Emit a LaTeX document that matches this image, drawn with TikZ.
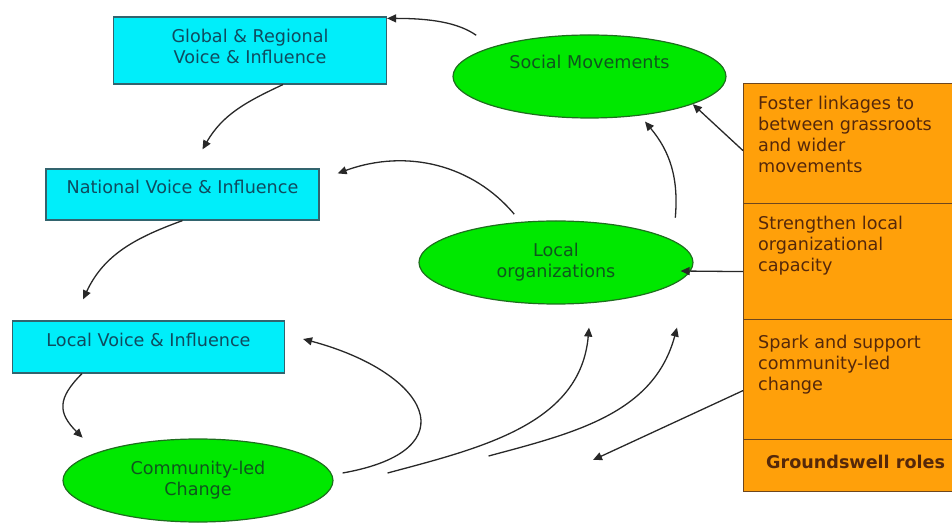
\documentclass[tikz,border=0pt]{standalone}
\usepackage{fontspec}
\setmainfont{DejaVu Sans}
\usetikzlibrary{arrows.meta,shapes.geometric}

\definecolor{voicefill}{RGB}{0,238,250}
\definecolor{voiceline}{RGB}{50,100,110}
\definecolor{voicetext}{RGB}{15,75,95}
\definecolor{actorfill}{RGB}{0,232,0}
\definecolor{actorline}{RGB}{30,110,30}
\definecolor{actortext}{RGB}{15,85,30}
\definecolor{rolefill}{RGB}{255,160,10}
\definecolor{roleline}{RGB}{110,70,30}
\definecolor{roletxt}{RGB}{85,40,10}
\definecolor{linkgray}{RGB}{40,40,40}

\begin{document}
\begin{tikzpicture}[x=1pt,y=1pt,
  font=\fontsize{17.6}{21}\selectfont,
  voice/.style={draw=voiceline, fill=voicefill, line width=1.2pt, text=voicetext, align=center, minimum width=273pt, inner sep=2pt},
  actor/.style={ellipse, draw=actorline, fill=actorfill, line width=1.2pt, text=actortext, align=center, minimum width=273pt, minimum height=83pt, inner sep=1pt},
  rolebox/.style={draw=roleline, fill=rolefill, line width=1.2pt, anchor=north west, minimum width=212pt},
  roletext/.style={text=roletxt, align=left, anchor=north west, inner sep=0pt},
  link/.style={draw=linkgray, line width=1.3pt, -{Triangle[length=9pt,width=8pt]}}]

\useasboundingbox (0,0) rectangle (952,522);

\node[voice, minimum height=67pt, text depth=8pt] (glob) at (250,471.5) {Global \& Regional\\Voice \& Influence};
\node[voice, minimum height=51pt, text depth=15pt] (nat) at (182.5,327.5) {National Voice \& Influence};
\node[voice, minimum width=272pt, minimum height=52pt, text depth=15pt] (locv) at (148.5,175) {Local Voice \& Influence};

\node[actor, text depth=29pt] (soc) at (589.5,445.5) {Social Movements};
\node[actor, minimum width=274pt] (lorg) at (556,259.5) {Local\\organizations};
\node[actor, minimum width=270pt] (comm) at (198,41.5) {Community-led\\Change};

\foreach \n/\y/\h in {fost/439/120, strg/319/116, sprk/203/120, gsw/83/52} {
        \node[rolebox, minimum height=\h pt] (\n) at (743,\y) {};
 }

\node[roletext] (fosttxt) at ([shift={(15,-13)}]fost.north west) {Foster linkages to\\between grassroots\\and wider\\movements};
\node[roletext] (strgtxt) at ([shift={(15,-13)}]strg.north west) {Strengthen local\\organizational\\capacity};
\node[roletext] (sprktxt) at ([shift={(15,-16)}]sprk.north west) {Spark and support\\community-led\\change};
\node[text=roletxt, font=\fontsize{17.6}{21}\selectfont\bfseries] (gswtxt) at ([shift={(6,4)}]gsw.center) {Groundswell roles};

\coordinate (clc) at (593,62);

\draw[link, shorten <=20pt] (soc.north west) to[out=145,in=0] ([yshift=-2pt]glob.north east);
\draw[link] (glob.-46) to[out=205,in=60] ([shift={(20,19)}]nat.north);
\draw[link, shorten <=10pt] (lorg.131) to[out=130,in=20] ([shift={(18,-5)}]nat.north east);
\draw[link] (nat.south) to[out=200,in=65] ([shift={(-65.5,21)}]locv.north);
\draw[link] ([xshift=-66.5pt]locv.south) to[out=225,in=135,looseness=1.4] ([shift={(-19.5,13)}]comm.north west);

\draw[link] ([shift={(9,7.5)}]comm.east) .. controls +(10:130) and +(-15:130) .. ([shift={(18,8)}]locv.east);
\draw[link] ([shift={(54,7.5)}]comm.east) to[out=15,in=-95] ([shift={(33,-23)}]lorg.south);
\draw[link] ([shift={(155,24.5)}]comm.east) to[out=15,in=-105] ([shift={(121,-23)}]lorg.south);
\draw[link] ([shift={(22,15)}]lorg.north east) to[out=85,in=-50] ([shift={(55.5,-3)}]soc.south);

\draw[link] ([yshift=-7pt]fost.west) -- (soc.-15);
\draw[link] ([yshift=-10pt]strg.west) -- ([shift={(-13,-8.5)}]lorg.east);
\draw[link] ([yshift=-11pt]sprk.west) -- (clc);

\end{tikzpicture}
\end{document}
